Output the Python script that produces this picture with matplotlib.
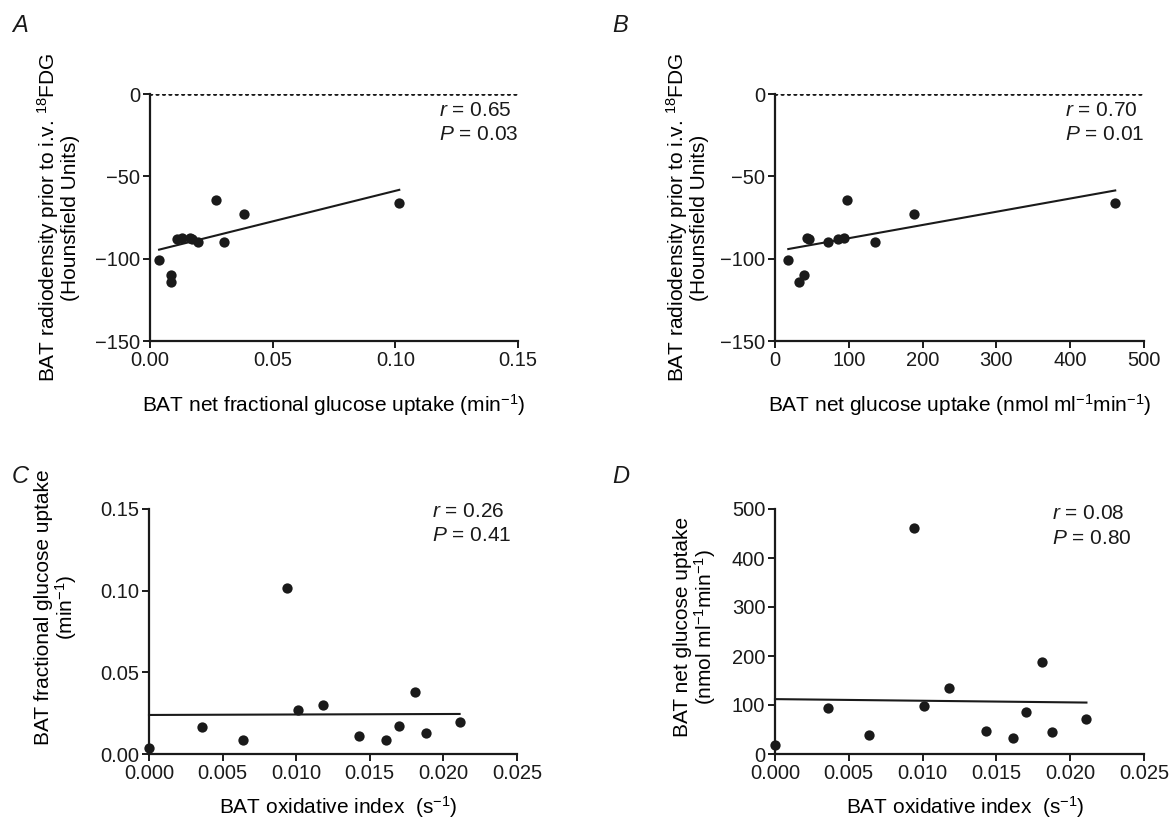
import numpy as np
import matplotlib
matplotlib.use("Agg")
import matplotlib.pyplot as plt

plt.rcParams['font.family'] = ['Liberation Sans', 'DejaVu Sans']
plt.rcParams['mathtext.fontset'] = 'custom'
plt.rcParams['mathtext.rm'] = 'Liberation Sans'
plt.rcParams['mathtext.it'] = 'Liberation Sans:italic'

# per-subject values (same 12 subjects in every panel)
oxidative_index = [0.0000, 0.0036, 0.0064, 0.0094, 0.0101, 0.0118,
                   0.0143, 0.0161, 0.0170, 0.0181, 0.0188, 0.0211]
fractional_uptake = [0.0037, 0.0164, 0.0085, 0.1016, 0.0268, 0.0302,
                     0.0109, 0.0086, 0.0172, 0.0382, 0.0129, 0.0194]
net_uptake = [18, 93, 39, 461, 98, 135, 46, 32, 85, 188, 44, 72]
radiodensity = [-101, -87.7, -110, -66, -64.6, -90,
                -88, -114, -88, -73, -87.7, -89.7]

# regression lines (slope, intercept)
fit_a = [371.0, -95.9]
fit_b = [0.0803, -95.6]
fit_c = [0.029, 0.0239]
fit_d = [-333.0, 112.0]

stats_a = ["0.65", "0.03"]
stats_b = ["0.70", "0.01"]
stats_c = ["0.26", "0.41"]
stats_d = ["0.08", "0.80"]

ink = '#1a1a1a'
fs = 15
tfs = 14.5

fig = plt.figure(figsize=(11.71, 8.19), dpi=100)
W, H = 1171, 819


def make_ax(left, right, top, bottom):
    return fig.add_axes([left / W, 1 - bottom / H, (right - left) / W, (bottom - top) / H])


ax_a = make_ax(150, 518, 94, 341)
ax_b = make_ax(775, 1144, 94, 341)
ax_c = make_ax(149, 517, 509, 754)
ax_d = make_ax(775, 1144, 509, 754)


def style(ax):
    for s in ['top', 'right']:
        ax.spines[s].set_visible(False)
    for s in ['left', 'bottom']:
        ax.spines[s].set_linewidth(1.6)
        ax.spines[s].set_color(ink)
    ax.tick_params(direction='out', length=5, width=1.4, colors=ink, labelsize=tfs, pad=2)


def fit_line(ax, x, coef):
    xs = np.array([min(x), max(x)])
    ax.plot(xs, coef[0] * xs + coef[1], color=ink, lw=1.5, clip_on=False)


def stats(ax, x, y, st):
    ax.text(x, y, '$r$ = ' + st[0], transform=ax.transAxes, fontsize=fs, va='center', ha='left', color=ink)
    ax.text(x, y - 0.1, '$P$ = ' + st[1], transform=ax.transAxes, fontsize=fs, va='center', ha='left', color=ink)


# A
ax = ax_a
style(ax)
ax.axhline(0, color=ink, lw=2.0, ls=(0, (0.5, 1.8)), dash_capstyle='round')
fit_line(ax, fractional_uptake, fit_a)
ax.scatter(fractional_uptake, radiodensity, s=55, color=ink, zorder=3, clip_on=False, linewidths=0)
ax.set_xlim(0, 0.15)
ax.set_ylim(-150, 0)
ax.set_xticks([0, 0.05, 0.10, 0.15])
ax.set_xticklabels(['0.00', '0.05', '0.10', '0.15'])
ax.set_yticks([-150, -100, -50, 0])
ax.set_xlabel('BAT net fractional glucose uptake (min$^{-1}$)', fontsize=fs)
ax.xaxis.set_label_coords(0.5, -0.205)
ax.set_ylabel('BAT radiodensity prior to i.v. $^{18}$FDG\n(Hounsfield Units)', fontsize=fs, linespacing=1.0)
ax.yaxis.set_label_coords(-0.19, 0.5)
stats(ax, 0.785, 0.935, stats_a)

# B
ax = ax_b
style(ax)
ax.axhline(0, color=ink, lw=2.0, ls=(0, (0.5, 1.8)), dash_capstyle='round')
fit_line(ax, net_uptake, fit_b)
ax.scatter(net_uptake, radiodensity, s=55, color=ink, zorder=3, clip_on=False, linewidths=0)
ax.set_xlim(0, 500)
ax.set_ylim(-150, 0)
ax.set_xticks([0, 100, 200, 300, 400, 500])
ax.set_yticks([-150, -100, -50, 0])
ax.set_xlabel('BAT net glucose uptake (nmol ml$^{-1}$min$^{-1}$)', fontsize=fs)
ax.xaxis.set_label_coords(0.5, -0.205)
ax.set_ylabel('BAT radiodensity prior to i.v. $^{18}$FDG\n(Hounsfield Units)', fontsize=fs, linespacing=1.0)
ax.yaxis.set_label_coords(-0.18, 0.5)
stats(ax, 0.786, 0.935, stats_b)

# C
ax = ax_c
style(ax)
fit_line(ax, oxidative_index, fit_c)
ax.scatter(oxidative_index, fractional_uptake, s=55, color=ink, zorder=3, clip_on=False, linewidths=0)
ax.set_xlim(0, 0.025)
ax.set_ylim(0, 0.15)
ax.set_xticks([0, 0.005, 0.010, 0.015, 0.020, 0.025])
ax.set_xticklabels(['0.000', '0.005', '0.010', '0.015', '0.020', '0.025'])
ax.set_yticks([0, 0.05, 0.10, 0.15])
ax.set_yticklabels(['0.00', '0.05', '0.10', '0.15'])
ax.set_xlabel('BAT oxidative index  (s$^{-1}$)', fontsize=fs)
ax.xaxis.set_label_coords(0.515, -0.165)
ax.set_ylabel('BAT fractional glucose uptake\n(min$^{-1}$)', fontsize=fs, linespacing=1.0)
ax.yaxis.set_label_coords(-0.19, 0.6)
stats(ax, 0.77, 0.99, stats_c)

# D
ax = ax_d
style(ax)
fit_line(ax, oxidative_index, fit_d)
ax.scatter(oxidative_index, net_uptake, s=55, color=ink, zorder=3, clip_on=False, linewidths=0)
ax.set_xlim(0, 0.025)
ax.set_ylim(0, 500)
ax.set_xticks([0, 0.005, 0.010, 0.015, 0.020, 0.025])
ax.set_xticklabels(['0.000', '0.005', '0.010', '0.015', '0.020', '0.025'])
ax.set_yticks([0, 100, 200, 300, 400, 500])
ax.set_xlabel('BAT oxidative index  (s$^{-1}$)', fontsize=fs)
ax.xaxis.set_label_coords(0.515, -0.165)
ax.set_ylabel('BAT net glucose uptake\n(nmol ml$^{-1}$min$^{-1}$)', fontsize=fs, linespacing=1.0)
ax.yaxis.set_label_coords(-0.155, 0.52)
stats(ax, 0.75, 0.98, stats_d)

# panel letters
for lbl, x, y in [('A', 12, 26), ('B', 612, 26), ('C', 12, 476), ('D', 612, 476)]:
    fig.text(x / W, 1 - y / H, lbl, fontsize=17, style='italic', va='center', ha='left', color=ink)

fig.savefig('out.png', dpi=100, facecolor='white')
